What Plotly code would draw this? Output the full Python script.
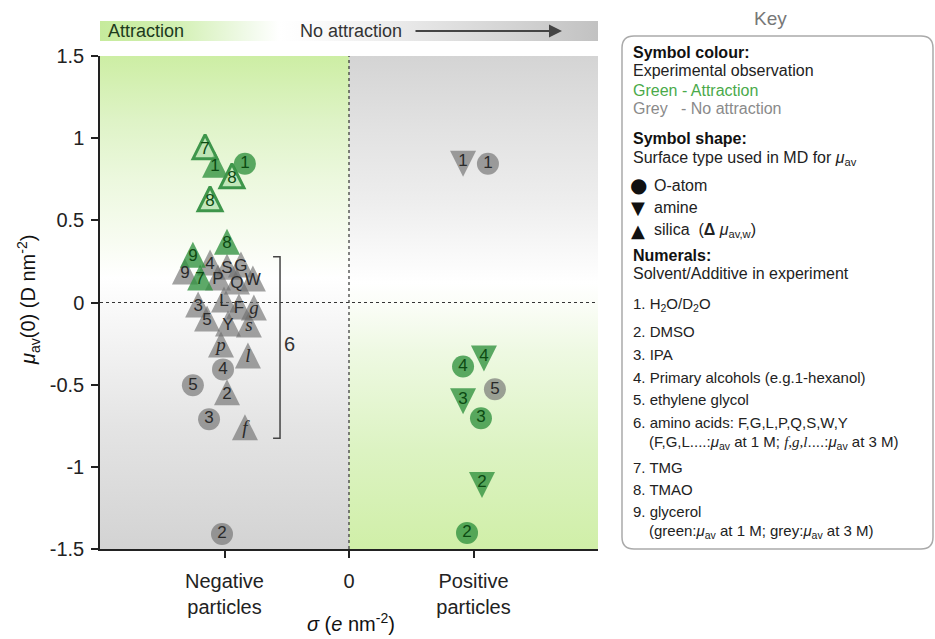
import plotly.graph_objects as go

FONT = "Liberation Sans, Arial, sans-serif"
SERIF = "Liberation Serif, Times New Roman, serif"
SYM = "DejaVu Sans, sans-serif"

# ---------------- data ----------------
# negative particles (x = horizontal spread inside the category)
neg_label = ["7", "1", "1", "8", "8", "8", "9", "4", "S", "G", "9", "7", "P", "Q", "W",
             "3", "L", "F", "g", "5", "Y", "s", "p", "l", "4", "5", "2", "3", "f", "2"]
neg_x = [-0.578, -0.538, -0.418, -0.470, -0.558, -0.490, -0.627, -0.558, -0.490, -0.434,
         -0.659, -0.598, -0.526, -0.450, -0.386, -0.606, -0.502, -0.442, -0.382, -0.570,
         -0.486, -0.402, -0.514, -0.406, -0.506, -0.627, -0.490, -0.562, -0.418, -0.510]
neg_y = [0.930, 0.826, 0.844, 0.753, 0.613, 0.358, 0.279, 0.231, 0.206, 0.219,
         0.176, 0.140, 0.140, 0.115, 0.134, -0.024, 0.006, -0.036, -0.043, -0.109,
         -0.140, -0.146, -0.267, -0.334, -0.407, -0.504, -0.559, -0.710, -0.771, -1.409]
neg_shape = ["silica_w", "silica", "O", "silica_w", "silica_w", "silica", "silica", "silica",
             "silica", "silica", "silica", "silica", "silica", "silica", "silica", "silica",
             "silica", "silica", "silica", "silica", "silica", "silica", "silica", "silica",
             "O", "O", "silica", "O", "silica", "O"]
neg_obs = ["green"] * 7 + ["grey"] * 4 + ["green"] + ["grey"] * 18

# positive particles
pos_label = ["1", "1", "4", "4", "5", "3", "3", "2", "2"]
pos_x = [0.458, 0.558, 0.458, 0.542, 0.586, 0.458, 0.530, 0.534, 0.474]
pos_y = [0.856, 0.844, -0.389, -0.328, -0.528, -0.589, -0.704, -1.099, -1.402]
pos_shape = ["amine", "O", "O", "amine", "O", "amine", "O", "amine", "O"]
pos_obs = ["grey", "grey", "green", "green", "grey", "green", "green", "green", "green"]

italic_labels = ["f", "g", "l", "p", "s"]

y_tickvals = [1.5, 1, 0.5, 0, -0.5, -1, -1.5]
y_ticktext = ["1.5", "1", "0.5", "0", "-0.5", "-1", "-1.5"]
x_tickvals = [-0.5, 0, 0.5]
x_ticktext = ["Negative<br>particles", "0", "Positive<br>particles"]

# ---------------- layout geometry (pixels) ----------------
W, H = 935, 639
ML, MR, MT, MB = 100, 337, 10, 90
PLOT_TOP = 56
Y_TOP = H - MB
DOM_TOP = (Y_TOP - PLOT_TOP) / (H - MT - MB)
PX_PER_UNIT = (Y_TOP - PLOT_TOP) / 3.0
TRI = 26
SHIFT = 15 / PX_PER_UNIT


def P(px, py):
    return (px - ML) / (W - ML - MR), (Y_TOP - py) / (H - MT - MB)


labels = neg_label + pos_label
xs = neg_x + pos_x
ys = neg_y + pos_y
shapes_ = neg_shape + pos_shape
obs = neg_obs + pos_obs

fig = go.Figure()

# background gradients
fig.add_trace(go.Scatter(
    x=[-1, 0, 0, -1, -1], y=[-1.5, -1.5, 1.5, 1.5, -1.5], mode="lines",
    line=dict(width=0), fill="toself", hoverinfo="skip",
    fillgradient=dict(type="vertical", colorscale=[
        [0, "#d3d3d3"], [0.25, "#e4e4e4"], [0.5, "#fafafa"], [0.55, "#ffffff"],
        [0.62, "#f8fcf2"], [0.75, "#ecf8de"], [0.87, "#def3c6"], [1, "#cdeea4"]])))
fig.add_trace(go.Scatter(
    x=[0, 1, 1, 0, 0], y=[-1.5, -1.5, 1.5, 1.5, -1.5], mode="lines",
    line=dict(width=0), fill="toself", hoverinfo="skip",
    fillgradient=dict(type="vertical", colorscale=[
        [0, "#d0efa8"], [0.2, "#dcf3c2"], [0.4, "#eef9e2"], [0.5, "#fbfdf8"], [0.54, "#ffffff"],
        [0.7, "#eeeeee"], [0.85, "#e2e2e2"], [1, "#d4d4d4"]])))
# dotted zero lines
fig.add_trace(go.Scatter(x=[0, 0], y=[-1.5, 1.5], mode="lines", hoverinfo="skip",
                         line=dict(color="#333", width=1.2, dash="dot")))
fig.add_trace(go.Scatter(x=[-1, 1], y=[0, 0], mode="lines", hoverinfo="skip",
                         line=dict(color="#333", width=1.2, dash="dot")))

# top band
fig.add_trace(go.Scatter(
    x=[0, 1, 1, 0, 0], y=[0, 0, 1, 1, 0], xaxis="x2", yaxis="y2", mode="lines",
    line=dict(width=0), fill="toself", hoverinfo="skip",
    fillgradient=dict(type="horizontal", colorscale=[
        [0, "#c6eb9c"], [0.15, "#d2f0b2"], [0.3, "#f1faea"], [0.36, "#ffffff"],
        [0.42, "#fcfcfc"], [0.7, "#e0e0e0"], [1, "#c2c2c2"]])))

FILL = {"green": "rgba(48,145,62,0.78)", "grey": "rgba(110,110,110,0.64)"}
TXT = {"green": "#0c4a12", "grey": "#2a2a2a"}


def idx(shape, o):
    return [i for i in range(len(labels)) if shapes_[i] == shape and obs[i] == o]


for shape, symbol, yax, size in [("silica", "arrow-up", "y3", TRI),
                                 ("silica_w", "arrow-up", "y3", TRI - 2),
                                 ("amine", "arrow-down", "y4", TRI),
                                 ("O", "circle", "y5", 22)]:
    for o in ["grey", "green"]:
        ii = idx(shape, o)
        if not ii:
            continue
        if shape == "silica_w":
            marker = dict(symbol=symbol, size=size, color="rgba(165,218,160,0.6)",
                          line=dict(color="rgb(62,150,75)", width=3))
        else:
            marker = dict(symbol=symbol, size=size, color=FILL[o], line=dict(width=0))
        fig.add_trace(go.Scatter(x=[xs[i] for i in ii], y=[ys[i] for i in ii],
                                 mode="markers", marker=marker, yaxis=yax,
                                 hoverinfo="skip", cliponaxis=False))

# labels inside symbols
norm = [i for i in range(len(labels)) if labels[i] not in italic_labels]
ital = [i for i in range(len(labels)) if labels[i] in italic_labels]
fig.add_trace(go.Scatter(
    x=[xs[i] for i in norm], y=[ys[i] for i in norm], text=[labels[i] for i in norm],
    mode="text", textposition="middle center", yaxis="y5", hoverinfo="skip",
    cliponaxis=False,
    textfont=dict(family=FONT, size=17, color=[TXT[obs[i]] for i in norm])))
fig.add_trace(go.Scatter(
    x=[xs[i] for i in ital], y=[ys[i] for i in ital],
    text=["<i>" + labels[i] + "</i>" for i in ital],
    mode="text", textposition="middle center", yaxis="y5", hoverinfo="skip",
    cliponaxis=False,
    textfont=dict(family=SERIF, size=19, color=[TXT[obs[i]] for i in ital])))

ann = []


def note(px, py, text, size=16, color="#222", xanchor="left", family=FONT, **kw):
    x, y = P(px, py)
    ann.append(dict(x=x, y=y, xref="paper", yref="paper", text=text, showarrow=False,
                    xanchor=xanchor, yanchor="middle",
                    font=dict(size=size, color=color, family=family), **kw))


# axis titles
note(28, 300, "<i>μ</i><sub>av</sub>(0) (D nm<sup>-2</sup>)", size=20, color="#111",
     xanchor="center", textangle=-90)
note(351, 622, "<i>σ</i> (<i>e</i> nm<sup>-2</sup>)", size=20, color="#111", xanchor="center")

# top band
note(106, 31, "Attraction", size=18, color="#1d3a1d")
note(298, 31, "No attraction", size=18, color="#333")
ax_, ay_ = P(562, 31)
ann.append(dict(x=ax_, y=ay_, xref="paper", yref="paper", text="", showarrow=True,
                ax=-148, ay=0, axref="pixel", ayref="pixel", arrowhead=2, arrowsize=1.3,
                arrowwidth=2, arrowcolor="#444"))

# bracket label
ann.append(dict(x=-0.237, y=-0.255, xref="x", yref="y", text="6", showarrow=False,
                font=dict(size=20, color="#333", family=FONT)))

# key
BX0, BX1, BY0, BY1 = 622, 933, 36, 549
LX = 631
note(770, 19, "Key", size=19, color="#777", xanchor="center")
note(LX, 52, "<b>Symbol colour:</b>", size=16, color="#111")
note(LX, 71, "Experimental observation", size=16)
note(LX, 91, "Green - Attraction", size=16, color="#4aaa4a")
note(LX, 109, "Grey\u00a0\u00a0\u00a0- No attraction", size=16, color="#8a8a8a")
note(LX, 139, "<b>Symbol shape:</b>", size=16, color="#111")
note(LX, 158, "Surface type used in MD for <i>μ</i><sub>av</sub>", size=16)
note(LX + 7, 185, "●", size=20, color="#111", xanchor="center", family=SYM)
note(LX + 21, 185, "O-atom", size=16)
note(LX + 7, 207, "▼", size=18, color="#111", xanchor="center", family=SYM)
note(LX + 21, 207, "amine", size=16)
note(LX + 7, 230, "▲", size=18, color="#111", xanchor="center", family=SYM)
note(LX + 21, 230, "silica\u00a0\u00a0(<b>Δ</b> <i>μ</i><sub>av,w</sub>)", size=16)
note(LX, 255, "<b>Numerals:</b>", size=16, color="#111")
note(LX, 273, "Solvent/Additive in experiment", size=16)
items = [(304, "1. H<sub>2</sub>O/D<sub>2</sub>O"), (331, "2. DMSO"), (354, "3. IPA"),
         (377, "4. Primary alcohols (e.g.1-hexanol)"), (399, "5. ethylene glycol"),
         (422, "6. amino acids: F,G,L,P,Q,S,W,Y"), (467, "7. TMG"), (489, "8. TMAO"),
         (511, "9. glycerol")]
for py, t in items:
    note(LX, py, t, size=15)
note(LX + 16, 442, "(F,G,L....:<i>μ</i><sub>av</sub> at 1 M; "
     "<span style=\"font-family:Liberation Serif\"><i>f,g,l</i></span>....:"
     "<i>μ</i><sub>av</sub> at 3 M)", size=15)
note(LX + 16, 531, "(green:<i>μ</i><sub>av</sub> at 1 M; grey:<i>μ</i><sub>av</sub> at 3 M)",
     size=15)


def rrect(x0, y0, x1, y1, r):
    def f(px, py):
        a, b = P(px, py)
        return f"{a:.5f},{b:.5f}"
    return (f"M {f(x0 + r, y0)} L {f(x1 - r, y0)} Q {f(x1, y0)} {f(x1, y0 + r)} "
            f"L {f(x1, y1 - r)} Q {f(x1, y1)} {f(x1 - r, y1)} L {f(x0 + r, y1)} "
            f"Q {f(x0, y1)} {f(x0, y1 - r)} L {f(x0, y0 + r)} Q {f(x0, y0)} {f(x0 + r, y0)} Z")


shapes = [
    dict(type="path", xref="paper", yref="paper", path=rrect(BX0, BY0, BX1, BY1, 12),
         line=dict(color="#aaaaaa", width=1.5)),
    dict(type="path", xref="x", yref="y",
         path="M -0.305,0.279 L -0.277,0.279 L -0.277,-0.826 L -0.305,-0.826",
         line=dict(color="#444", width=1.5)),
]

axis_common = dict(showgrid=False, zeroline=False, fixedrange=True, automargin=False)
fig.update_layout(
    width=W, height=H, margin=dict(l=ML, r=MR, t=MT, b=MB, autoexpand=False),
    paper_bgcolor="white", plot_bgcolor="white", showlegend=False,
    font=dict(family=FONT, color="#222"),
    xaxis=dict(domain=[0, 1], range=[-1, 1], showline=True, linecolor="#222", linewidth=1.5,
               ticks="outside", ticklen=7, tickcolor="#222", tickwidth=1.5,
               tickvals=x_tickvals, ticktext=x_ticktext, ticklabelstandoff=6,
               tickfont=dict(size=20, color="#222"), anchor="y", **axis_common),
    yaxis=dict(domain=[0, DOM_TOP], range=[-1.5, 1.5], showline=True, linecolor="#222",
               linewidth=1.5, ticks="outside", ticklen=7, tickcolor="#222", tickwidth=1.5,
               tickvals=y_tickvals, ticktext=y_ticktext, ticklabelstandoff=3,
               tickfont=dict(size=20, color="#222"), anchor="x", **axis_common),
    yaxis3=dict(overlaying="y", range=[-1.5 - SHIFT, 1.5 - SHIFT], visible=False,
                anchor="x", **axis_common),
    yaxis4=dict(overlaying="y", range=[-1.5 + SHIFT, 1.5 + SHIFT], visible=False,
                anchor="x", **axis_common),
    yaxis5=dict(overlaying="y", range=[-1.5, 1.5], visible=False, anchor="x", **axis_common),
    xaxis2=dict(domain=[0, 1], range=[0, 1], visible=False, anchor="y2", **axis_common),
    yaxis2=dict(domain=[(Y_TOP - 41) / (H - MT - MB), (Y_TOP - 21) / (H - MT - MB)],
                range=[0, 1], visible=False, anchor="x2", **axis_common),
    annotations=ann, shapes=shapes,
)

fig.write_html("out.html", config={"displayModeBar": False},
               post_script="document.body.style.margin='0px';")
